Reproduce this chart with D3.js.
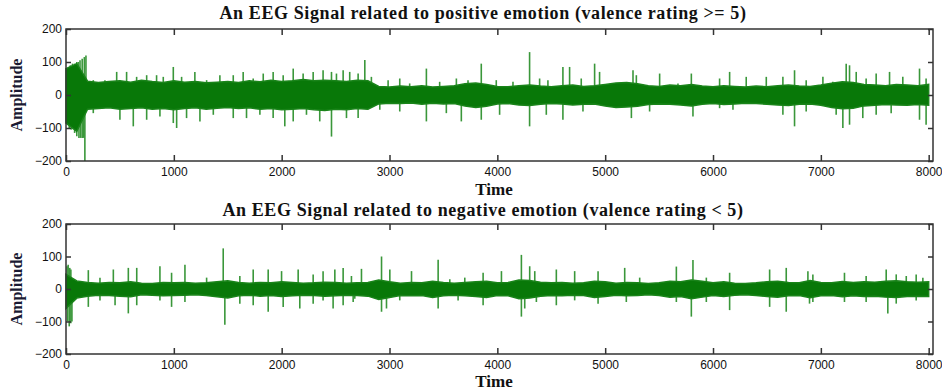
<!DOCTYPE html>
<html>
<head>
<meta charset="utf-8">
<script src="https://cdn.jsdelivr.net/npm/d3@7"></script>
<style>
  body { margin: 0; background: #fff; }
  svg { display: block; }
</style>
</head>
<body>
<div id="chart"></div>
<script>

// sample axis and tick labels
var binStep = 100;           // core envelope read every 100 samples
var sampleMax = 8040;
var xTicks = [0, 1000, 2000, 3000, 4000, 5000, 6000, 7000, 8000];
var yTicks = [-200, -100, 0, 100, 200];

var titles = [
  "An EEG Signal related to positive emotion (valence rating >= 5)",
  "An EEG Signal related to negative emotion (valence rating < 5)"
];

// positive emotion: dense core envelope (upper / lower), t = 0,100,...,8000
var posHi = [80,95,42,38,41,43,39,45,41,38,43,39,41,37,39,41,38,43,40,45,41,43,47,43,45,43,41,45,43,
  26,24,27,25,28,24,26,28,34,36,32,26,25,28,30,27,25,28,30,26,28,32,36,38,34,28,26,30,28,32,27,
  25,28,26,24,27,25,28,30,27,26,30,36,40,38,32,30,28,32,30,28,32];
var posLo = [-85,-110,-43,-41,-39,-43,-41,-39,-43,-41,-45,-41,-39,-43,-40,-38,-41,-39,-43,-41,-45,-43,-41,-45,-47,-43,-45,-41,-43,
  -27,-25,-26,-24,-28,-25,-27,-26,-33,-38,-34,-27,-26,-30,-32,-28,-26,-27,-30,-28,-27,-33,-38,-36,-34,-29,-27,-28,-30,-33,-28,
  -26,-29,-27,-25,-26,-28,-30,-32,-28,-27,-31,-38,-42,-40,-33,-31,-29,-30,-31,-29,-31];
// positive emotion: isolated spikes [sample, amplitude]
var posSpikes = [[20,70],[40,90],[60,95],[80,95],[100,100],[115,100],[130,105],[150,110],[170,115],[185,120],
  [253,45],[361,45],[470,70],[562,70],[655,55],[748,60],
  [840,60],[902,55],[995,85],[1072,55],[1195,70],[1304,45],[1427,60],[1551,60],[1643,70],[1736,50],[1829,65],
  [1921,70],[2014,60],[2107,80],[2199,65],[2292,70],[2384,75],[2462,70],[2508,65],[2570,75],[2631,70],[2709,65],
  [2771,106],[2832,55],[2987,45],[3095,50],[3187,35],[3342,80],[3465,40],[3620,50],[3728,45],[3851,95],[3990,45],
  [4145,40],[4299,130],[4392,50],[4469,45],[4608,85],[4670,85],[4778,50],[4902,95],[4948,70],[5258,75],[5289,60],
  [5505,65],[5675,35],[5799,65],[6061,50],[6154,70],[6308,55],[6494,55],[6648,55],[6756,75],[6864,45],[7019,55],
  [7111,40],[7235,95],[7266,90],[7328,70],[7420,50],[7513,65],[7637,70],[7760,55],[7853,30],[7915,80],[7976,50],
  [10,-80],[30,-100],[50,-105],[80,-115],[100,-125],[120,-130],[135,-130],[150,-130],[165,-130],[175,-200],
  [253,-55],[500,-75],[624,-95],[748,-75],[871,-65],[995,-85],[1026,-100],
  [1118,-70],[1242,-80],[1366,-60],[1551,-70],[1674,-70],[1798,-60],[1921,-70],[2029,-95],[2107,-80],[2230,-60],
  [2353,-80],[2462,-126],[2601,-70],[2709,-70],[2910,-45],[3095,-50],[3342,-80],[3527,-55],[3666,-80],[3851,-75],
  [4021,-60],[4299,-95],[4454,-60],[4608,-75],[4794,-50],[5243,-70],[5412,-50],[5814,-65],[6061,-40],[6185,-45],
  [6648,-60],[6756,-95],[6864,-50],[7142,-60],[7204,-100],[7266,-90],[7389,-70],[7513,-60],[7652,-55],[7915,-75],[7976,-90]];

// negative emotion: dense core envelope
var negHi = [45,25,20,18,20,19,22,18,17,20,19,20,18,19,22,25,20,18,20,19,22,20,18,19,21,20,18,19,20,
  28,22,18,20,19,24,20,18,20,22,24,19,20,28,26,21,19,20,18,19,24,22,18,20,19,17,19,24,22,28,24,
  19,22,18,17,19,22,24,20,19,26,20,19,23,20,22,21,24,25,22,21,22];
var negLo = [-60,-28,-22,-19,-20,-22,-24,-18,-19,-21,-20,-19,-18,-20,-24,-28,-21,-19,-22,-20,-23,-21,-19,-20,-22,-21,-19,-20,-22,
  -32,-26,-20,-21,-20,-26,-21,-19,-21,-23,-26,-20,-21,-30,-28,-22,-20,-21,-19,-20,-26,-23,-19,-21,-20,-18,-20,-25,-23,-30,-25,
  -20,-23,-19,-18,-20,-23,-25,-21,-20,-27,-21,-20,-24,-21,-23,-22,-25,-26,-23,-22,-23];
var negSpikes = [[10,70],[20,75],[35,65],[45,60],[207,58],[315,35],[439,60],[578,65],[656,65],[871,70],[979,50],[1103,75],[1304,35],
  [1458,125],[1612,40],[1736,60],[1875,60],[1999,55],[2153,60],[2292,45],[2384,55],[2493,60],[2570,65],[2647,40],
  [2740,62],[2926,100],[3003,60],[3204,55],[3451,90],[3559,30],[3698,35],[3868,50],[4038,55],[4223,105],[4300,70],
  [4347,55],[4547,60],[4717,55],[4934,55],[5181,65],[5320,35],[5660,69],[5814,89],[5938,35],[6154,50],[6525,60],
  [6679,65],[6880,55],[6926,45],[7219,50],[7420,40],[7606,60],[7699,45],[7792,40],[7884,45],[7946,35],
  [15,-100],[30,-115],[45,-105],[55,-100],[207,-55],[315,-35],[455,-50],[578,-75],[656,-50],[871,-35],[979,-55],[1103,-40],[1473,-110],
  [1612,-45],[1736,-50],[1875,-70],[2014,-55],[2168,-60],[2292,-45],[2384,-35],[2477,-60],[2570,-50],[2663,-40],
  [2678,-30],[2926,-70],[2972,-60],[3095,-35],[3451,-60],[3636,-35],[3868,-50],[4223,-85],[4254,-60],[4362,-40],
  [4547,-50],[4717,-35],[4934,-45],[5196,-40],[5660,-40],[5799,-85],[5938,-40],[6154,-65],[6525,-55],[6679,-70],
  [6895,-45],[6926,-40],[7219,-40],[7420,-40],[7621,-75],[7699,-45],[7884,-35]];


var svg = d3.select('#chart')
    .append('svg')
    .attr('width', 942)
    .attr('height', 391);

var x = d3.scaleLinear().domain([0, sampleMax]).range([66, 933]);

var panels = [
    {title: titles[0], top: 29, bottom: 161, hi: posHi, lo: posLo, spikes: posSpikes, titleY: 19, labelY: 195},
    {title: titles[1], top: 224, bottom: 354, hi: negHi, lo: negLo, spikes: negSpikes, titleY: 216, labelY: 387}
];

panels.forEach(drawPanel);

function drawPanel(p){

    var y = d3.scaleLinear().domain([-200, 200]).range([p.bottom, p.top]);
    var g = svg.append('g');

    // spikes
    g.append('g')
	.selectAll('line')
	.data(p.spikes)
	.enter().append('line')
	.attr('x1', function(d){ return x(d[0]); })
	.attr('x2', function(d){ return x(d[0]); })
	.attr('y1', y(0))
	.attr('y2', function(d){ return y(d[1]); })
	.attr('stroke', '#3a973a')
	.attr('stroke-width', 1.6);

    // dense core
    var core = p.hi.map(function(v, i){ return {t: i * binStep, hi: v, lo: p.lo[i]}; });
    var area = d3.area()
	.x(function(d){ return x(d.t); })
	.y0(function(d){ return y(d.lo); })
	.y1(function(d){ return y(d.hi); });

    g.append('path')
	.datum(core)
	.attr('d', area)
	.attr('fill', '#087808')
	.attr('stroke', '#1a841a')
	.attr('stroke-width', 1.5);

    // frame
    g.append('rect')
	.attr('x', x(0)).attr('y', p.top)
	.attr('width', x(sampleMax) - x(0)).attr('height', p.bottom - p.top)
	.attr('fill', 'none')
	.attr('stroke', '#333')
	.attr('stroke-width', 1.5);

    // axes, matlab style inward ticks
    var xb = d3.axisBottom(x).tickValues(xTicks).tickSizeInner(-6).tickSizeOuter(0).tickPadding(6).tickFormat(d3.format('d'));
    var xt = d3.axisTop(x).tickValues(xTicks).tickSizeInner(-6).tickSizeOuter(0).tickFormat('');
    var yl = d3.axisLeft(y).tickValues(yTicks).tickSizeInner(-5).tickSizeOuter(0).tickPadding(4).tickFormat(d3.format('d'));
    var yr = d3.axisRight(y).tickValues(yTicks).tickSizeInner(-5).tickSizeOuter(0).tickFormat('');

    g.append('g').attr('transform', 'translate(0,' + p.bottom + ')').call(xb);
    g.append('g').attr('transform', 'translate(0,' + p.top + ')').call(xt);
    g.append('g').attr('transform', 'translate(' + x(0) + ',0)').call(yl);
    g.append('g').attr('transform', 'translate(' + x(sampleMax) + ',0)').call(yr);

    g.selectAll('.domain').remove();
    g.selectAll('.tick line').attr('stroke', '#333').attr('stroke-width', 1.5);
    g.selectAll('.tick text')
	.attr('fill', '#111')
	.style('font-family', 'Liberation Sans, Arial, sans-serif')
	.style('font-size', '12px');

    // title and labels
    svg.append('text')
	.attr('x', 483).attr('y', p.titleY)
	.attr('text-anchor', 'middle')
	.style('font-family', 'Liberation Serif, Times New Roman, serif')
	.style('font-weight', 'bold')
	.style('font-size', '18px')
	.style('letter-spacing', '0.6px')
	.attr('fill', '#111')
	.text(p.title);

    svg.append('text')
	.attr('x', 494).attr('y', p.labelY)
	.attr('text-anchor', 'middle')
	.style('font-family', 'Liberation Serif, Times New Roman, serif')
	.style('font-weight', 'bold')
	.style('font-size', '17px')
	.attr('fill', '#111')
	.text('Time');

    svg.append('text')
	.attr('transform', 'translate(22,' + y(0) + ') rotate(-90)')
	.attr('text-anchor', 'middle')
	.style('font-family', 'Liberation Serif, Times New Roman, serif')
	.style('font-weight', 'bold')
	.style('font-size', '16px')
	.attr('fill', '#1a1a33')
	.text('Amplitude');
}

</script>
</body>
</html>
